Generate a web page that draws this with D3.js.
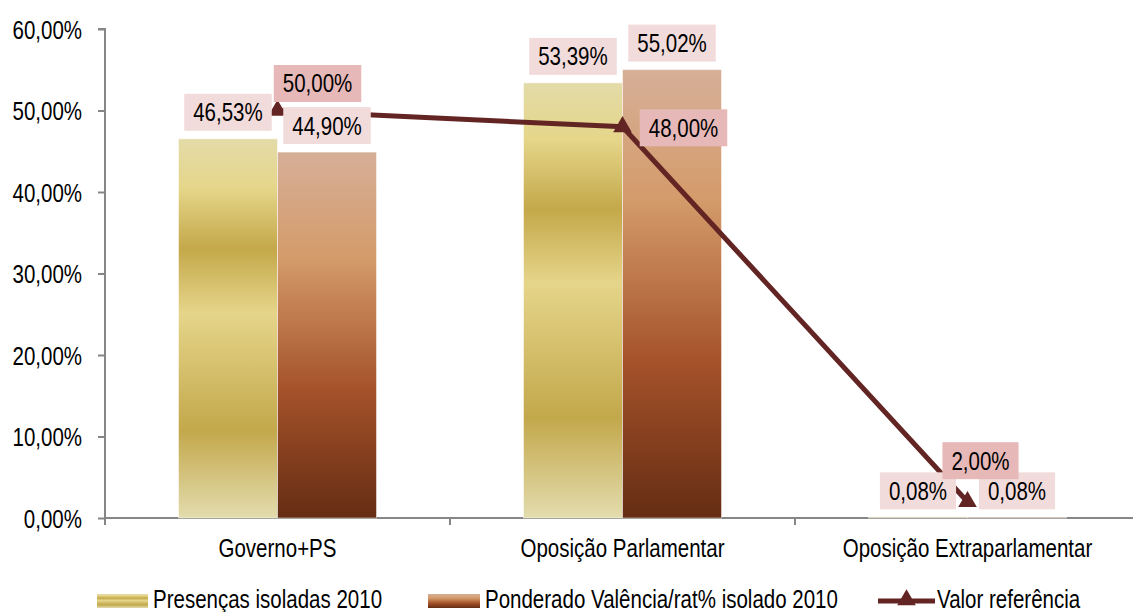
<!DOCTYPE html>
<meta charset="utf-8">
<style>
html, body { margin: 0; padding: 0; background: #fff; }
svg text { font-family: "Liberation Sans", Arial, sans-serif; font-size: 25px; fill: #000; }
</style>
<body>
<script src="https://cdn.jsdelivr.net/npm/d3@7"></script>
<script>

var width = 1133,
    height = 612;

var categories = ["Governo+PS", "Oposição Parlamentar", "Oposição Extraparlamentar"];
var presencas = [46.53, 53.39, 0.08];
var ponderado = [44.90, 55.02, 0.08];
var referencia = [50.00, 48.00, 2.00];
var seriesNames = ["Presenças isoladas 2010", "Ponderado Valência/rat% isolado 2010", "Valor referência"];
var yTicks = [0, 10, 20, 30, 40, 50, 60];

// nudges for the line's data labels (Excel moved them around)
var lineLabelNudge = [[40, -27], [61, 1], [13, -41]];

var fmt = function(v){ return d3.format(".2f")(v).replace(".", ",") + "%"; };

// no narrow font installed: squeeze Liberation Sans like Arial Narrow
var NARROW = 0.82;
function narrow(sel){
  sel.each(function(){
    var t = d3.select(this);
    t.attr("x", (+t.attr("x") || 0) / NARROW).attr("transform", "scale(" + NARROW + ",1)");
  });
}

var margin = {left: 105, top: 29, bottom: 518};

var svg = d3.select("body").append("svg")
  .attr("width", width)
  .attr("height", height);

var defs = svg.append("defs");

function gradient(id, stops){
  var g = defs.append("linearGradient").attr("id", id)
    .attr("x1", 0).attr("y1", 0).attr("x2", 0).attr("y2", 1);
  stops.forEach(function(s){
    g.append("stop").attr("offset", s[0]).attr("stop-color", s[1]);
  });
}

gradient("gold", [[0, "#e3dba8"], [0.13, "#e5d68a"], [0.29, "#c4a84a"], [0.46, "#e5d58a"], [0.77, "#c3a84b"], [1, "#e3dcae"]]);
gradient("copper", [[0, "#d6af98"], [0.29, "#d49b6a"], [0.65, "#a5522a"], [1, "#652d13"]]);

var x = d3.scaleBand().domain(categories).range([margin.left, 1140]);
var xs = d3.scaleBand().domain([0, 1]).range([0, x.bandwidth()]).paddingOuter(0.742);
var y = d3.scaleLinear().domain([0, 60]).range([margin.bottom, margin.top]);

// axes
var yAxis = svg.append("g")
  .attr("transform", "translate(" + margin.left + ",0)")
  .call(d3.axisLeft(y).tickValues(yTicks).tickSize(7).tickPadding(16).tickFormat(function(d){ return fmt(d); }));
yAxis.select(".domain").attr("stroke", "#868686").attr("stroke-width", 2).attr("d", "M0," + (margin.bottom + 7) + "V" + margin.top + "H-7");
yAxis.selectAll(".tick line").attr("stroke", "#868686").attr("stroke-width", 2);
yAxis.attr("font-family", null).attr("font-size", null);
yAxis.selectAll(".tick text").attr("dy", "0.36em").call(narrow);

var xAxisG = svg.append("g").attr("transform", "translate(0," + margin.bottom + ")");
xAxisG.append("line").attr("x1", margin.left).attr("x2", width).attr("stroke", "#868686").attr("stroke-width", 2);
xAxisG.selectAll("line.tk")
  .data(categories)
  .enter().append("line").attr("class", "tk")
  .attr("x1", function(d){ return x(d) + x.bandwidth(); })
  .attr("x2", function(d){ return x(d) + x.bandwidth(); })
  .attr("y1", 0).attr("y2", 7)
  .attr("stroke", "#868686").attr("stroke-width", 2);
xAxisG.selectAll("text")
  .data(categories)
  .enter().append("text")
  .attr("x", function(d){ return x(d) + x.bandwidth() / 2; })
  .attr("y", 39)
  .attr("text-anchor", "middle")
  .text(function(d){ return d; })
  .call(narrow);

// bars
var barSeries = [
  {values: presencas, fill: "url(#gold)"},
  {values: ponderado, fill: "url(#copper)"}
];

barSeries.forEach(function(s, si){
  svg.append("g").selectAll("rect")
    .data(s.values)
    .enter().append("rect")
    .attr("x", function(d, i){ return x(categories[i]) + xs(si); })
    .attr("width", xs.bandwidth())
    .attr("y", function(d){ return y(d); })
    .attr("height", function(d){ return y(0) - y(d); })
    .attr("fill", s.fill)
    .attr("stroke", "rgba(255,255,255,0.5)")
    .attr("stroke-width", 1);
});

// line
var line = d3.line()
  .x(function(d, i){ return x(categories[i]) + x.bandwidth() / 2; })
  .y(function(d){ return y(d); });

svg.append("path")
  .datum(referencia)
  .attr("fill", "none")
  .attr("stroke", "#632523")
  .attr("stroke-width", 5)
  .attr("d", line);

var tri = d3.symbol().type(d3.symbolTriangle).size(150);
svg.append("g").selectAll("path")
  .data(referencia)
  .enter().append("path")
  .attr("transform", function(d, i){ return "translate(" + (x(categories[i]) + x.bandwidth() / 2) + "," + y(d) + ")"; })
  .attr("fill", "#632523")
  .attr("d", tri);

// data labels
function label(g, cx, cy, text, fill){
  var t = g.append("text")
    .attr("x", cx).attr("y", cy)
    .attr("text-anchor", "middle")
    .attr("dy", "0.36em")
    .text(text)
    .call(narrow);
  var w = t.node().getBBox().width * NARROW;
  g.insert("rect", "text")
    .attr("x", cx - w / 2 - 9).attr("y", cy - 18.5)
    .attr("width", w + 18).attr("height", 37)
    .attr("fill", fill);
}

var labels = svg.append("g");
barSeries.forEach(function(s, si){
  s.values.forEach(function(d, i){
    var cx = x(categories[i]) + xs(si) + xs.bandwidth() / 2;
    label(labels.append("g"), cx, y(d) - 8 - 18.5, fmt(d), "#f2dcdb");
  });
});
referencia.forEach(function(d, i){
  var cx = x(categories[i]) + x.bandwidth() / 2 + lineLabelNudge[i][0];
  label(labels.append("g"), cx, y(d) + lineLabelNudge[i][1], fmt(d), "#e6b9b8");
});

// legend
var legend = svg.append("g");
var legendItems = [
  {x: 97, w: 51, fill: "url(#gold)"},
  {x: 428, w: 52, fill: "url(#copper)"},
  {x: 878, w: 57, line: true}
];
legendItems.forEach(function(it, i){
  var g = legend.append("g");
  if(it.line){
    g.append("line").attr("x1", it.x).attr("x2", it.x + it.w)
      .attr("y1", 601).attr("y2", 601)
      .attr("stroke", "#632523").attr("stroke-width", 5);
    g.append("path").attr("transform", "translate(" + (it.x + it.w / 2) + ",600)")
      .attr("fill", "#632523").attr("d", tri);
  } else {
    g.append("rect").attr("x", it.x).attr("y", 594).attr("width", it.w).attr("height", 14)
      .attr("fill", it.fill);
  }
  g.append("text")
    .attr("x", it.x + it.w + (it.line ? 2 : 5))
    .attr("y", 608)
    .text(seriesNames[i])
    .call(narrow);
});

</script>
</body>
